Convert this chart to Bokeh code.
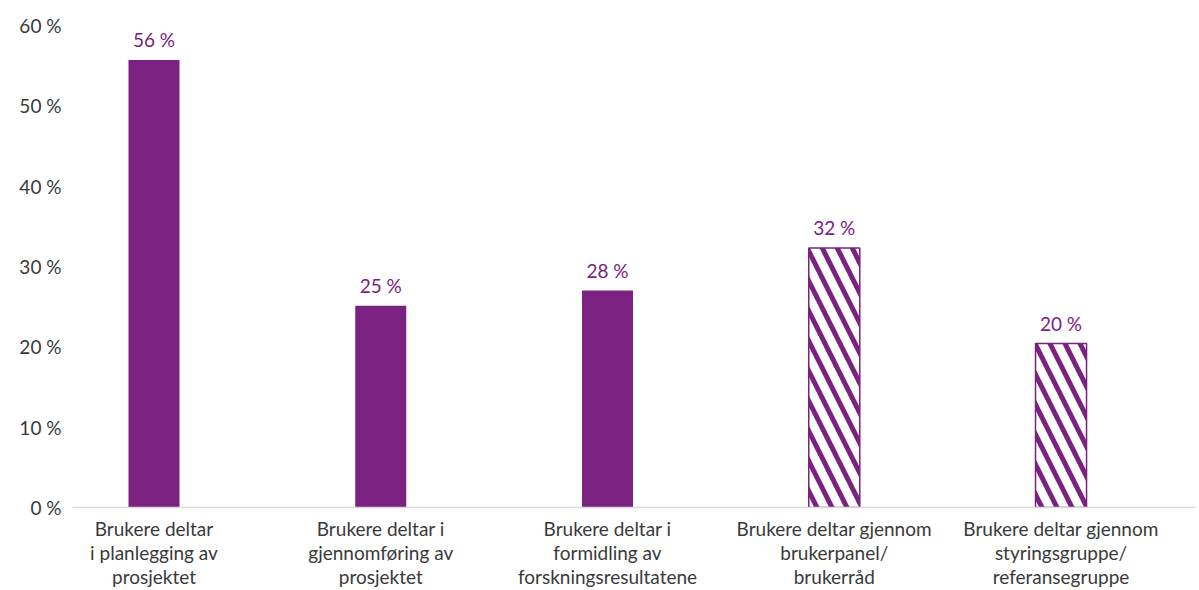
from bokeh.plotting import figure
from bokeh.models import ColumnDataSource, FixedTicker, Range1d
from bokeh.embed import file_html
from bokeh.resources import INLINE
from bokeh.core.properties import value

categories = [
    "Brukere deltar\ni planlegging av\nprosjektet",
    "Brukere deltar i\ngjennomføring av\nprosjektet",
    "Brukere deltar i\nformidling av\nforskningsresultatene",
    "Brukere deltar gjennom\nbrukerpanel/\nbrukerråd",
    "Brukere deltar gjennom\nstyringsgruppe/\nreferansegruppe",
]
values = [55.7, 25.1, 27.0, 32.3, 20.4]
labels = ["56 %", "25 %", "28 %", "32 %", "20 %"]
hatched = [False, False, False, True, True]
y_ticks = [0, 10, 20, 30, 40, 50, 60]
y_tick_labels = ["0 %", "10 %", "20 %", "30 %", "40 %", "50 %", "60 %"]

PURPLE = "#7b2180"
TEXT = "#3a3a3a"
FONT = "Lato"

xs = list(range(len(categories)))

p = figure(width=1199, height=590, output_backend="svg", toolbar_location=None,
           x_range=Range1d(-0.3594, 4.593), y_range=Range1d(0, 60),
           min_border_left=72, min_border_right=4, min_border_top=25, min_border_bottom=82)
p.outline_line_color = None
p.grid.grid_line_color = None

solid = ColumnDataSource(dict(x=[x for x, h in zip(xs, hatched) if not h],
                              top=[v for v, h in zip(values, hatched) if not h]))
hatch = ColumnDataSource(dict(x=[x for x, h in zip(xs, hatched) if h],
                              top=[v for v, h in zip(values, hatched) if h]))

p.vbar(x="x", top="top", width=0.225, source=solid, fill_color=PURPLE, line_color=None)
p.vbar(x="x", top="top", width=0.225, source=hatch, fill_color="white",
       line_color=PURPLE, line_width=1.5, hatch_pattern="\\", hatch_color=PURPLE,
       hatch_weight=5, hatch_scale=30)

lab = ColumnDataSource(dict(x=xs, y=values, t=labels))
p.text(x="x", y="y", text="t", source=lab, text_align="center", text_baseline="bottom",
       y_offset=-9, text_color=PURPLE, text_font=value(FONT), text_font_size="19px")

p.yaxis.ticker = FixedTicker(ticks=y_ticks)
p.yaxis.major_label_overrides = {t: l for t, l in zip(y_ticks, y_tick_labels)}
p.yaxis.axis_line_color = None
p.yaxis.major_tick_line_color = None
p.yaxis.minor_tick_line_color = None
p.yaxis.major_label_standoff = 5
p.yaxis.major_label_text_font = FONT
p.yaxis.major_label_text_font_size = "19px"
p.yaxis.major_label_text_color = TEXT

p.xaxis.ticker = FixedTicker(ticks=xs)
p.xaxis.major_label_overrides = {x: c for x, c in zip(xs, categories)}
p.xaxis.axis_line_color = "#d9d9d9"
p.xaxis.axis_line_width = 1.5
p.xaxis.major_tick_line_color = None
p.xaxis.minor_tick_line_color = None
p.xaxis.major_label_standoff = 3
p.xaxis.major_label_text_font = FONT
p.xaxis.major_label_text_font_size = "19px"
p.xaxis.major_label_text_color = TEXT
p.xaxis.major_label_text_line_height = 1.05

open("out.html", "w").write(file_html(p, INLINE))
